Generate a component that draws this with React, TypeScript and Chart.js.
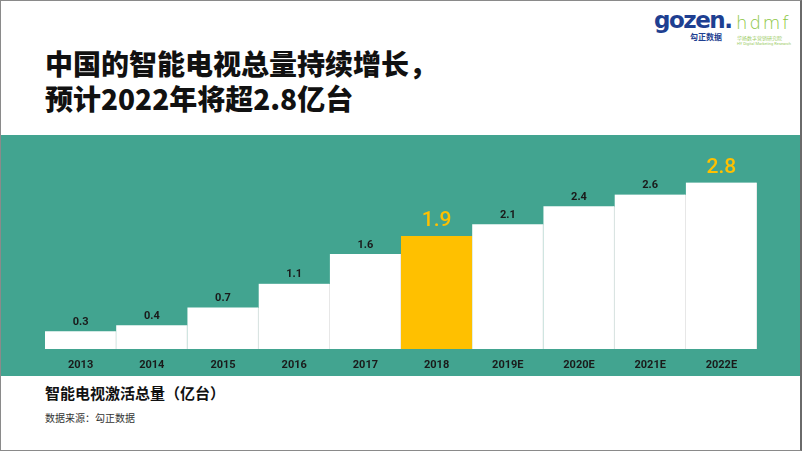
import React, { useEffect, useRef } from "react";
import { Chart, registerables } from "chart.js";

Chart.register(...registerables);

const categories = ["2013", "2014", "2015", "2016", "2017", "2018", "2019E", "2020E", "2021E", "2022E"];
const values = [0.3, 0.4, 0.7, 1.1, 1.6, 1.9, 2.1, 2.4, 2.6, 2.8];
const highlightIndex = [5, 9];
const labelText = ["0.3", "0.4", "0.7", "1.1", "1.6", "1.9", "2.1", "2.4", "2.6", "2.8"];

const TEAL = "#42A490";
const YELLOW = "#FFC000";
const NUM_FONT = "Roboto, 'DejaVu Sans Condensed', sans-serif";

const valueLabelPlugin = {
  id: "valueLabels",
  afterDatasetsDraw(chart: any) {
    const ctx = chart.ctx;
    const meta = chart.getDatasetMeta(0);
    ctx.save();
    ctx.textAlign = "center";
    ctx.textBaseline = "middle";
    meta.data.forEach((bar: any, i: number) => {
      const hi = highlightIndex.includes(i);
      if (hi) {
        ctx.font = `500 21px ${NUM_FONT}`;
        ctx.fillStyle = YELLOW;
        ctx.fillText(labelText[i], bar.x, bar.y - 15);
      } else {
        ctx.font = `bold 11px ${NUM_FONT}`;
        ctx.fillStyle = "#1a1a1a";
        ctx.fillText(labelText[i], bar.x, bar.y - 9);
      }
    });
    ctx.restore();
  },
};

function BarChart() {
  const ref = useRef<HTMLCanvasElement | null>(null);
  useEffect(() => {
    if (!ref.current) return;
    const chart = new Chart(ref.current, {
      type: "bar",
      data: {
        labels: categories,
        datasets: [
          {
            data: values,
            backgroundColor: values.map((_, i) => (i === 5 ? YELLOW : "#ffffff")),
            borderColor: values.map((_, i) => (i === 5 ? YELLOW : "#e2e2e2")),
            borderWidth: { top: 0, bottom: 0, left: 0, right: 1 },
            borderSkipped: false,
            barPercentage: 1,
            categoryPercentage: 1,
          },
        ],
      },
      options: {
        responsive: false,
        animation: false,
        devicePixelRatio: 1,
        layout: { padding: { left: 45, right: 43, top: 6, bottom: 0 } },
        plugins: { legend: { display: false }, tooltip: { enabled: false } },
        scales: {
          x: {
            grid: { display: false, drawTicks: false },
            border: { display: false },
            ticks: {
              color: "#1a1a1a",
              font: { family: NUM_FONT, size: 11, weight: "bold" },
              padding: 10,
              maxRotation: 0,
            },
            afterFit: (scale: any) => {
              scale.height = 27;
            },
          },
          y: {
            display: false,
            min: 0,
            max: 3.5,
          },
        },
      },
      plugins: [valueLabelPlugin],
    });
    return () => chart.destroy();
  }, []);
  return (
    <canvas
      ref={ref}
      width={800}
      height={241}
      style={{ position: "absolute", left: 0, top: 135, width: 800, height: 241 }}
    />
  );
}

export default function App() {
  const cjk = "'Noto Sans CJK SC', 'Noto Sans', sans-serif";
  return (
    <div
      style={{
        position: "fixed",
        left: 0,
        top: 0,
        width: 802,
        height: 451,
        background: "#ffffff",
        overflow: "hidden",
        fontFamily: cjk,
      }}
    >
      <div
        style={{
          position: "absolute",
          left: 45,
          top: 46,
          fontSize: 28,
          lineHeight: "35px",
          fontWeight: 900,
          color: "#111",
          whiteSpace: "nowrap",
        }}
      >
        <div>中国的智能电视总量持续增长，</div>
        <div>预计2022年将超2.8亿台</div>
      </div>

      {/* logos */}
      <div
        style={{
          position: "absolute",
          left: 654,
          top: 7,
          fontFamily: "'DejaVu Sans', sans-serif",
          fontWeight: 700,
          fontSize: 23,
          lineHeight: "26px",
          color: "#1e3f91",
          letterSpacing: -1.5,
        }}
      >
        gozen.
      </div>
      <div
        style={{
          position: "absolute",
          left: 690,
          top: 32,
          fontSize: 8,
          lineHeight: "9px",
          fontWeight: 700,
          color: "#1e3f91",
        }}
      >
        勾正数据
      </div>
      <div
        style={{
          position: "absolute",
          left: 736,
          top: 12,
          fontFamily: "'DejaVu Sans', sans-serif",
          fontWeight: 300,
          fontSize: 18,
          lineHeight: "22px",
          color: "#8cc63f",
          letterSpacing: 2,
        }}
      >
        hdmf
      </div>
      <div
        style={{
          position: "absolute",
          left: 737,
          top: 35,
          fontSize: 5,
          lineHeight: "6px",
          color: "#9ccc65",
          whiteSpace: "nowrap",
        }}
      >
        华扬数字营销研究院
      </div>
      <div
        style={{
          position: "absolute",
          left: 737,
          top: 41,
          fontSize: 4,
          lineHeight: "5px",
          color: "#9ccc65",
          whiteSpace: "nowrap",
          fontFamily: "Roboto, sans-serif",
        }}
      >
        HY Digital Marketing Research
      </div>

      {/* teal band */}
      <div
        style={{
          position: "absolute",
          left: 0,
          top: 135,
          width: 802,
          height: 241,
          background: TEAL,
        }}
      />
      <BarChart />

      <div
        style={{
          position: "absolute",
          left: 45,
          top: 383,
          fontSize: 15,
          lineHeight: "20px",
          fontWeight: 700,
          color: "#111",
          whiteSpace: "nowrap",
        }}
      >
        智能电视激活总量（亿台）
      </div>
      <div
        style={{
          position: "absolute",
          left: 45,
          top: 411,
          fontSize: 10,
          lineHeight: "14px",
          color: "#333",
          whiteSpace: "nowrap",
        }}
      >
        数据来源：勾正数据
      </div>

      {/* frame */}
      <div
        style={{
          position: "absolute",
          left: 0,
          top: 0,
          width: 802,
          height: 451,
          boxSizing: "border-box",
          borderLeft: "1px solid #8a8a8a",
          borderTop: "1px solid #8a8a8a",
          borderBottom: "1px solid #8a8a8a",
          borderRight: "2px solid #6a6a6a",
          pointerEvents: "none",
        }}
      />
    </div>
  );
}
